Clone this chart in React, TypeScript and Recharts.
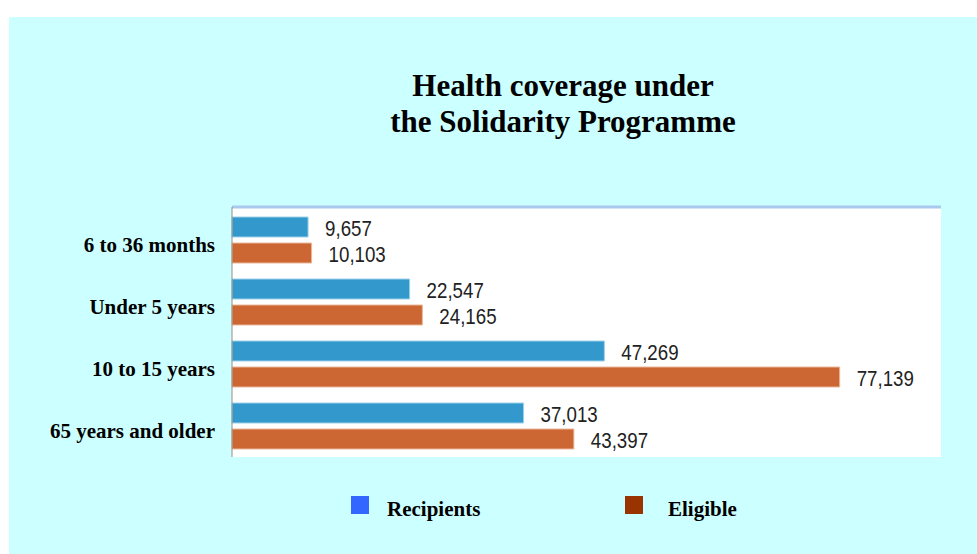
import { Bar, BarChart, CartesianGrid, LabelList, XAxis, YAxis } from "recharts";

const categories = ["6 to 36 months", "Under 5 years", "10 to 15 years", "65 years and older"];
const recipients = [9657, 22547, 47269, 37013];
const eligible = [10103, 24165, 77139, 43397];

const data = categories.map((group, i) => ({
  group,
  recipients: recipients[i],
  eligible: eligible[i],
}));

const serif = "'Liberation Serif', 'Times New Roman', serif";
const sans = "'Liberation Sans', Arial, sans-serif";

// value labels to the right of each bar (tall, slightly narrow digits like the original)
const renderValue = (props: any) => {
  const { x, y, width, height, value } = props;
  const tx = Number(x) + Number(width) + 17;
  const ty = Number(y) + Number(height) / 2 + 1;
  return (
    <text
      transform={`translate(${tx},${ty}) scale(0.85,1)`}
      x={0}
      y={0}
      dominantBaseline="central"
      textAnchor="start"
      fill="#222"
      fontSize={22}
      fontFamily={sans}
    >
      {Number(value).toLocaleString("en-US")}
    </text>
  );
};

const renderTick = (props: any) => {
  const { x, y, payload } = props;
  return (
    <text
      x={x}
      y={y + 5}
      textAnchor="end"
      dominantBaseline="central"
      fill="#000"
      fontSize={21}
      fontWeight="bold"
      fontFamily={serif}
    >
      {payload.value}
    </text>
  );
};

export default function App() {
  return (
    <div
      style={{
        position: "absolute",
        left: 9,
        top: 17,
        width: 968,
        height: 537,
        background: "#ccffff",
        fontFamily: serif,
      }}
    >
      <div
        style={{
          position: "absolute",
          left: 0,
          width: 1108,
          top: 51,
          textAlign: "center",
          fontWeight: "bold",
          fontSize: 31,
          lineHeight: "36px",
          color: "#000",
        }}
      >
        Health coverage under
        <br />
        the Solidarity Programme
      </div>
      <BarChart
        layout="vertical"
        width={968}
        height={537}
        data={data}
        margin={{ top: 189, right: 36, bottom: 97, left: 0 }}
        barSize={20}
        barGap={6}
      >
        <CartesianGrid horizontal={false} vertical={false} fill="#ffffff" />
        <XAxis
          type="number"
          orientation="top"
          domain={[0, 90000]}
          height={1}
          tick={false}
          tickLine={false}
          axisLine={{ stroke: "#a9c9ef", strokeWidth: 3 }}
        />
        <YAxis
          type="category"
          dataKey="group"
          width={223}
          padding={{ top: 2, bottom: 0 }}
          tickSize={0}
          tickMargin={17}
          axisLine={{ stroke: "#9a8a80" }}
          tick={renderTick}
        />
        <Bar dataKey="recipients" fill="#3399cc" stroke="#9fd0ea" strokeWidth={1} isAnimationActive={false}>
          <LabelList dataKey="recipients" content={renderValue} />
        </Bar>
        <Bar dataKey="eligible" fill="#cc6633" stroke="#eab89a" strokeWidth={1} isAnimationActive={false}>
          <LabelList dataKey="eligible" content={renderValue} />
        </Bar>
      </BarChart>
      <div style={{ position: "absolute", left: 342, top: 479, width: 18, height: 18, background: "#3366ff" }} />
      <div
        style={{ position: "absolute", left: 378, top: 479, fontSize: 21, fontWeight: "bold", lineHeight: "26px" }}
      >
        Recipients
      </div>
      <div style={{ position: "absolute", left: 616, top: 479, width: 18, height: 18, background: "#993300" }} />
      <div
        style={{ position: "absolute", left: 659, top: 479, fontSize: 21, fontWeight: "bold", lineHeight: "26px" }}
      >
        Eligible
      </div>
    </div>
  );
}
